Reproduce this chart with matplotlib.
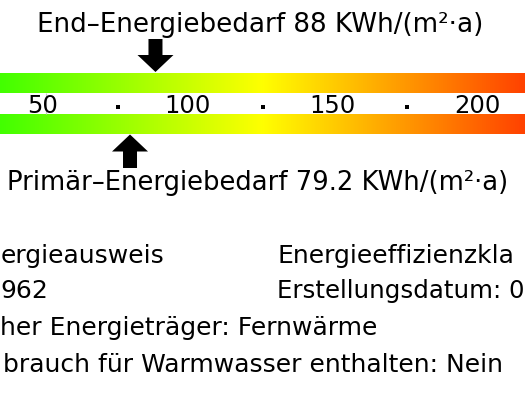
import numpy as np
import matplotlib
matplotlib.use("Agg")
import matplotlib.pyplot as plt
from matplotlib.colors import LinearSegmentedColormap
from matplotlib.patches import FancyArrow

W, H, DPI = 525, 394, 100

# scale data
TICK_VALUES = [50, 100, 150, 200]
DOT_VALUES = [75, 125, 175]
END_VALUE = 88
PRIMARY_VALUE = 79.2
VALUE_MIN, VALUE_MAX = 34.27, 215.7
STOP_VALUES = [34.27, 125, 215.7]
STOP_COLORS = ["#42ff00", "#ffff00", "#ff4200"]

# visible (cropped) parts of the info lines
LEFT_LINES = [
    "ergieausweis",
    "962",
    "her Energieträger: Fernwärme",
    "brauch für Warmwasser enthalten: Nein",
]
RIGHT_LINES = ["Energieeffizienzkla", "Erstellungsdatum: 0"]

INK = "#000000"
FONT = "DejaVu Sans"

plt.rcParams["font.family"] = FONT

fig = plt.figure(figsize=(W / DPI, H / DPI), dpi=DPI)
fig.patch.set_facecolor("white")
ax = fig.add_axes([0, 0, 1, 1])
ax.axis("off")

px = (VALUE_MAX - VALUE_MIN) / W  # value units per pixel

# colour bars
span = STOP_VALUES[-1] - STOP_VALUES[0]
cmap = LinearSegmentedColormap.from_list(
    "energy", [((v - STOP_VALUES[0]) / span, c) for v, c in zip(STOP_VALUES, STOP_COLORS)]
)
grad = np.linspace(0, 1, 512)[None, :]
for top, bottom in [(73, 93), (114, 134)]:
    ax.imshow(grad, cmap=cmap, aspect="auto", extent=(VALUE_MIN, VALUE_MAX, bottom, top),
              interpolation="bilinear", zorder=1)
ax.set_xlim(VALUE_MIN, VALUE_MAX)
ax.set_ylim(H, 0)

# scale labels
ax.vlines(TICK_VALUES[0], 93, 114, color="#c8c8c8", linewidth=0.8, zorder=2)
for v in TICK_VALUES:
    ax.text(v - 2.5 * px, 112.5, f"{v}", ha="center", va="baseline", fontsize=17.5, color=INK, zorder=3)
ax.scatter(DOT_VALUES, [106.5] * len(DOT_VALUES), marker="s", s=6, color=INK, linewidths=0, zorder=3)

# arrows
for value, y0, dy in [(END_VALUE, 39, 33), (PRIMARY_VALUE, 168, -33.5)]:
    ax.add_patch(FancyArrow(value, y0, 0, dy, width=14 * px, head_width=36 * px, head_length=17,
                            length_includes_head=True, color=INK, linewidth=0, zorder=4))


def ftext(x, y, s, **kw):
    fig.text(x / W, 1 - y / H, s, color=INK, va="baseline", **kw)


ftext(260.5, 32, f"End–Energiebedarf {END_VALUE:g} KWh/(m²·a)", ha="center", fontsize=18.8)
ftext(258, 190, f"Primär–Energiebedarf {PRIMARY_VALUE:g} KWh/(m²·a)", ha="center", fontsize=18.6)

left_x = [1, 0, 0, 3]
baselines = [263, 298, 335, 372]
for s, xl, yb in zip(LEFT_LINES, left_x, baselines):
    ftext(xl, yb, s, ha="left", fontsize=18)
for s, yb, fs in zip(RIGHT_LINES, baselines[:2], [18, 17.6]):
    ftext(277, yb, s, ha="left", fontsize=fs)

fig.savefig("out.png", dpi=DPI, facecolor="white")
